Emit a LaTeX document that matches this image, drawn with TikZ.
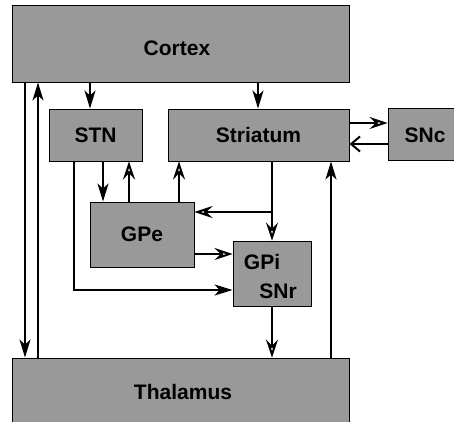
\documentclass[tikz,border=0pt]{standalone}
\usepackage{fontspec}
\setmainfont{Liberation Sans}
\usetikzlibrary{arrows.meta}
\tikzset{
  region/.style={draw=black, line width=0.9pt, fill=black!40, inner sep=0pt,
    font=\fontsize{21}{24}\selectfont\bfseries},
  lbl/.style={inner sep=0pt, font=\fontsize{21}{24}\selectfont\bfseries},
  conn/.style={line width=2pt},
  fillarr/.style={conn, -{Stealth[length=18pt,width=11pt,inset=5pt]}},
  openarr/.style={conn, -{Stealth[open,length=18pt,width=12pt,inset=6pt]}},
  barbarr/.style={conn, -{Straight Barb[length=9pt,width=15pt]}},
}
\begin{document}
\begin{tikzpicture}[x=1pt,y=-1pt]
\useasboundingbox (0,0) rectangle (454,421);
\clip (0,0) rectangle (454,421);
\node[region, minimum width=337pt, minimum height=77pt] (cortex) at (180.5,43.5) {};
\node[lbl] (cortexl) at (177,48) {Cortex};
\node[region, minimum width=93pt, minimum height=52pt] (stn) at (95.5,135) {STN};
\node[region, minimum width=181pt, minimum height=52pt] (str) at (258.5,135) {Striatum};
\node[region, minimum width=72pt, minimum height=52pt] (snc) at (424,134) {};
\node[lbl] (sncl) at (425,135) {SNc};
\node[region, minimum width=104pt, minimum height=65pt] (gpe) at (142,234.5) {GPe};
\node[region, minimum width=78pt, minimum height=65pt] (gpi) at (272,273.5) {};
\node[lbl] (gpil) at (262,262) {GPi};
\node[lbl] (snrl) at (278,291) {SNr};
\node[region, minimum width=337pt, minimum height=72pt] (thal) at (180.5,394) {};
\node[lbl] (thall) at (183,392) {Thalamus};

\coordinate (xa) at (25,0);
\coordinate (xb) at (38,0);
\coordinate (xc) at (90,0);
\coordinate (xd) at (258,0);
\coordinate (xe) at (103,0);
\coordinate (xf) at (129,0);
\coordinate (xg) at (179,0);
\coordinate (xh) at (272,0);
\coordinate (xi) at (74,0);
\coordinate (xj) at (331,0);
\coordinate (ya) at (0,123);
\coordinate (yb) at (0,144);
\coordinate (yc) at (0,212);
\coordinate (yd) at (0,254);
\coordinate (ye) at (0,290);
\coordinate (branch) at (272,212);
\coordinate (corner) at (74,290);

\draw[fillarr] (cortex.south -| xa) -- (thal.north -| xa);
\draw[fillarr] (thal.north -| xb) -- (cortex.south -| xb);
\draw[fillarr] (cortex.south -| xc) -- (stn.north -| xc);
\draw[fillarr] (cortex.south -| xd) -- (str.north -| xd);
\draw[openarr] (str.east |- ya) -- (snc.west |- ya);
\draw[barbarr] (snc.west |- yb) -- (str.east |- yb);
\draw[fillarr] (stn.south -| xe) -- (gpe.north -| xe);
\draw[openarr] (gpe.north -| xf) -- (stn.south -| xf);
\draw[openarr] (gpe.north -| xg) -- (str.south -| xg);
\draw[openarr] (str.south -| xh) -- (gpi.north -| xh);
\draw[openarr] (branch) -- (gpe.east |- yc);
\draw[openarr] (gpe.east |- yd) -- (gpi.west |- yd);
\draw[fillarr] (stn.south -| xi) -- (corner) -- (gpi.west |- ye);
\draw[openarr] (gpi.south -| xh) -- (thal.north -| xh);
\draw[fillarr] (thal.north -| xj) -- (str.south -| xj);
\end{tikzpicture}
\end{document}
